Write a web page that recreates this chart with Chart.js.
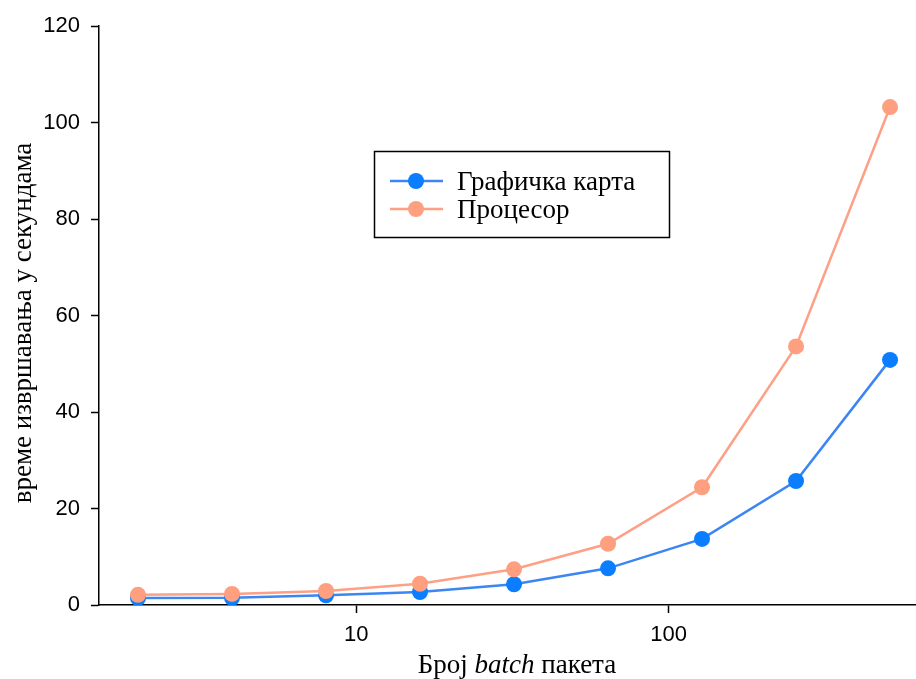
<!DOCTYPE html>
<html>
<head>
<meta charset="utf-8">
<script src="https://cdn.jsdelivr.net/npm/chart.js@4.4.1/dist/chart.umd.min.js"></script>
<style>
html,body{margin:0;padding:0;background:#fff;}
#wrap{width:916px;height:679px;position:relative;}
</style>
</head>
<body>
<div id="wrap"><canvas id="c" width="916" height="679"></canvas></div>
<script>
const batchSizes = [2, 4, 8, 16, 32, 64, 128, 256, 512];
const gpuTimes = [1.45, 1.5, 2.0, 2.7, 4.3, 7.6, 13.7, 25.7, 50.8];
const cpuTimes = [2.1, 2.3, 2.9, 4.4, 7.4, 12.7, 24.4, 53.6, 103.2];
const xTickValues = [10, 100];
const yTickValues = [0, 20, 40, 60, 80, 100, 120];
const seriesNames = ['Графичка карта', 'Процесор'];
const yTitle = 'време извршавања у секундама';
const xTitleParts = [['Број ', ''], ['batch', 'italic '], [' пакета', '']];

const BLUE_LINE = '#3b86f3';
const BLUE_PT = '#0a7efe';
const ORANGE_LINE = '#fda085';
const ORANGE_PT = '#fe9f7f';
const SERIF = '"Liberation Serif", "Times New Roman", serif';
const SANS = '"Liberation Sans", Arial, sans-serif';
const TFS = 27;

const overlay = {
  id: 'overlay',
  afterDraw(chart) {
    const ctx = chart.ctx;
    ctx.save();
    ctx.fillStyle = '#000';
    ctx.font = TFS + 'px ' + SERIF;
    ctx.translate(31, 323);
    ctx.rotate(-Math.PI / 2);
    ctx.textAlign = 'center';
    ctx.textBaseline = 'alphabetic';
    ctx.fillText(yTitle, 0, 0);
    ctx.restore();

    ctx.save();
    ctx.fillStyle = '#000';
    ctx.textBaseline = 'alphabetic';
    let total = 0;
    const widths = xTitleParts.map(p => { ctx.font = p[1] + TFS + 'px ' + SERIF; const w = ctx.measureText(p[0]).width; total += w; return w; });
    let x = 517 - total / 2;
    xTitleParts.forEach((p, i) => { ctx.font = p[1] + TFS + 'px ' + SERIF; ctx.fillText(p[0], x, 673); x += widths[i]; });
    ctx.restore();

    ctx.save();
    ctx.fillStyle = '#fff';
    ctx.fillRect(374, 151, 295, 86);
    ctx.strokeStyle = '#000';
    ctx.lineWidth = 1.5;
    ctx.strokeRect(374.5, 151.5, 295, 86);
    const items = [[BLUE_LINE, BLUE_PT, 181], [ORANGE_LINE, ORANGE_PT, 209]];
    items.forEach((it, i) => {
      ctx.strokeStyle = it[0];
      ctx.lineWidth = 2.5;
      ctx.beginPath(); ctx.moveTo(390, it[2]); ctx.lineTo(443, it[2]); ctx.stroke();
      ctx.fillStyle = it[1];
      ctx.beginPath(); ctx.arc(416, it[2], 8, 0, Math.PI * 2); ctx.fill();
      ctx.fillStyle = '#000';
      ctx.font = TFS + 'px ' + SERIF;
      ctx.textBaseline = 'alphabetic';
      ctx.textAlign = 'left';
      ctx.fillText(seriesNames[i], 457, it[2] + 9);
    });
    ctx.restore();
  }
};

new Chart(document.getElementById('c'), {
  type: 'line',
  data: {
    datasets: [
      {
        label: seriesNames[0],
        data: batchSizes.map((b, i) => ({x: b, y: gpuTimes[i]})),
        borderColor: BLUE_LINE, backgroundColor: BLUE_PT,
        pointBackgroundColor: BLUE_PT, pointBorderWidth: 0,
        pointRadius: 8, borderWidth: 2.5, order: 2, tension: 0
      },
      {
        label: seriesNames[1],
        data: batchSizes.map((b, i) => ({x: b, y: cpuTimes[i]})),
        borderColor: ORANGE_LINE, backgroundColor: ORANGE_PT,
        pointBackgroundColor: ORANGE_PT, pointBorderWidth: 0,
        pointRadius: 8, borderWidth: 2.5, order: 1, tension: 0
      }
    ]
  },
  options: {
    responsive: false,
    animation: false,
    devicePixelRatio: 1,
    layout: { autoPadding: false, padding: { left: 0, right: 0, top: 26, bottom: 0 } },
    plugins: { legend: { display: false }, tooltip: { enabled: false } },
    scales: {
      x: {
        type: 'logarithmic',
        min: 1.5, max: 620,
        afterBuildTicks(s) { s.ticks = xTickValues.map(v => ({value: v})); },
        afterFit(s) { s.height = 74; },
        grid: { drawOnChartArea: false, drawTicks: true, tickLength: 8, tickColor: '#000', tickWidth: 1.5 },
        border: { display: true, color: '#000', width: 1.5 },
        ticks: { color: '#000', font: { family: SANS, size: 22 }, padding: 9, maxRotation: 0,
          callback: v => String(v) }
      },
      y: {
        min: 0, max: 120,
        afterBuildTicks(s) { s.ticks = yTickValues.map(v => ({value: v})); },
        afterFit(s) { s.width = 99; },
        grid: { drawOnChartArea: false, drawTicks: true, tickLength: 8, tickColor: '#000', tickWidth: 1.5 },
        border: { display: true, color: '#000', width: 1.5 },
        ticks: { color: '#000', font: { family: SANS, size: 22 }, padding: 11 }
      }
    }
  },
  plugins: [overlay]
});
</script>
</body>
</html>
